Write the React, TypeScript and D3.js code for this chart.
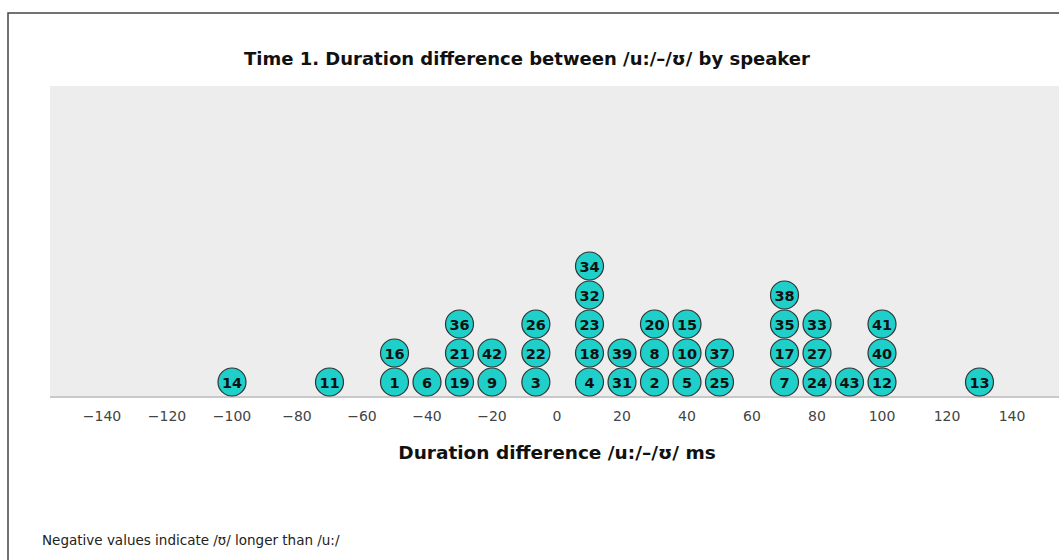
import React from "react";
import * as d3 from "d3";

const speakers = [14, 11, 1, 16, 6, 19, 21, 36, 9, 42, 3, 22, 26, 4, 18, 23, 32, 34, 31, 39, 2, 8, 20, 5, 10, 15, 25, 37, 7, 17, 35, 38, 24, 27, 33, 43, 12, 40, 41, 13];
const diffs = [-100, -70, -50, -50, -40, -30, -30, -30, -20, -20, -6.5, -6.5, -6.5, 10, 10, 10, 10, 10, 20, 20, 30, 30, 30, 40, 40, 40, 50, 50, 70, 70, 70, 70, 80, 80, 80, 90, 100, 100, 100, 130];
const tickValues = [-140, -120, -100, -80, -60, -40, -20, 0, 20, 40, 60, 80, 100, 120, 140];

const title = "Time 1. Duration difference between /u:/\u2013/\u028A/ by speaker";
const xTitle = "Duration difference /u:/\u2013/\u028A/ ms";
const footnote = "Negative values indicate /\u028A/ longer than /u:/";

const FONT = "'DejaVu Sans', 'Liberation Sans', sans-serif";

export default function App() {
  const W = 1059, H = 560;
  const plotLeft = 50, plotRight = 1064, plotTop = 86, axisY = 397;
  const x = d3.scaleLinear().domain([-156, 156]).range([plotLeft, plotRight]);
  const r = 14;
  const rowStep = 29;
  const baseY = 382;

  const counts = new Map<number, number>();
  const dots = speakers.map((s, i) => {
    const v = diffs[i];
    const k = counts.get(v) ?? 0;
    counts.set(v, k + 1);
    return { s, v, k };
  });

  return (
    <svg width={W} height={H} style={{ position: "absolute", left: 0, top: 0, background: "#fff" }}>
      <rect x={8} y={13} width={1200} height={700} fill="#fff" stroke="#444" strokeWidth={1.5} />
      <rect x={plotLeft} y={plotTop} width={plotRight - plotLeft} height={axisY - plotTop} fill="#ededed" />
      <line x1={plotLeft} x2={plotRight} y1={axisY} y2={axisY} stroke="#c9c9c9" strokeWidth={2} />
      <text x={527} y={65} textAnchor="middle" fontFamily={FONT} fontWeight="bold" fontSize={18} fill="#111">{title}</text>
      {tickValues.map((t) => (
        <text key={t} x={x(t)} y={421} textAnchor="middle" fontFamily={FONT} fontSize={14} fill="#444">
          {t < 0 ? "\u2212" + Math.abs(t) : String(t)}
        </text>
      ))}
      {dots.map((d) => (
        <g key={d.s} transform={`translate(${x(d.v)},${baseY - d.k * rowStep})`}>
          <circle r={r} fill="#1fcfca" stroke="#333" strokeWidth={1.2} />
          <text y={5.5} textAnchor="middle" fontFamily={FONT} fontWeight="bold" fontSize={14.5} fill="#111">{d.s}</text>
        </g>
      ))}
      <text x={557} y={459} textAnchor="middle" fontFamily={FONT} fontWeight="bold" fontSize={18.5} fill="#111">{xTitle}</text>
      <text x={42} y={545} fontFamily={FONT} fontSize={13.5} fill="#222">{footnote}</text>
    </svg>
  );
}
